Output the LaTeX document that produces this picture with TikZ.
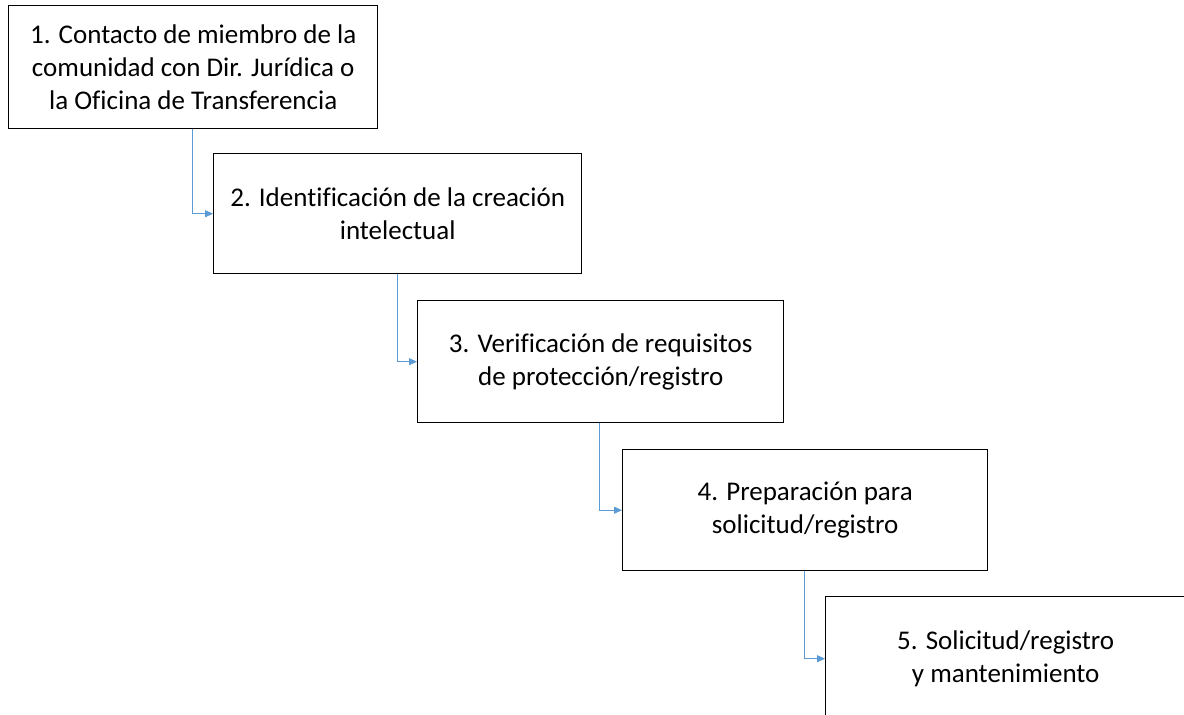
\documentclass[tikz,border=0pt]{standalone}
\usepackage{fontspec}
\setmainfont{Carlito}[Ligatures=CommonOff]
\usetikzlibrary{arrows.meta}
\definecolor{connblue}{RGB}{91,155,213}
\begin{document}
\begin{tikzpicture}[x=1pt,y=-1pt,
  stepbox/.style={draw=black,line width=1.4pt,fill=white,rectangle,anchor=north west,
    inner sep=0pt,align=center,font=\fontsize{27}{33}\selectfont},
  conn/.style={draw=connblue,line width=0.9pt,-{Triangle[length=8pt,width=7pt]}}]
\useasboundingbox (0,0) rectangle (1184,715);
\clip (0,0) rectangle (1184,715);
\node[stepbox,minimum width=369pt,minimum height=123pt] (b1) at (8,5)
  {1. Contacto de miembro de la\\comunidad con Dir. Jurídica o\\la Oficina de Transferencia};
\node[stepbox,minimum width=368pt,minimum height=120pt] (b2) at (213,153)
  {2. Identificación de la creación\\intelectual};
\node[stepbox,minimum width=366pt,minimum height=122pt] (b3) at (417,300)
  {3. Verificación de requisitos\hspace{0.6em}\\de protección/registro};
\node[stepbox,minimum width=365pt,minimum height=121pt] (b4) at (622,449)
  {4. Preparación para\\solicitud/registro};
\node[stepbox,minimum width=390pt,minimum height=124pt] (b5) at (825,596)
  {\hspace{-30pt}5. Solicitud/registro\\\hspace{-30pt}y mantenimiento};
\draw[conn] ([xshift=184pt]b1.south west) |- (b2.west);
\draw[conn] ([xshift=184pt]b2.south west) |- (b3.west);
\draw[conn] ([xshift=182pt]b3.south west) |- (b4.west);
\draw[conn] ([xshift=182pt]b4.south west) |- (b5.west);
\end{tikzpicture}
\end{document}
